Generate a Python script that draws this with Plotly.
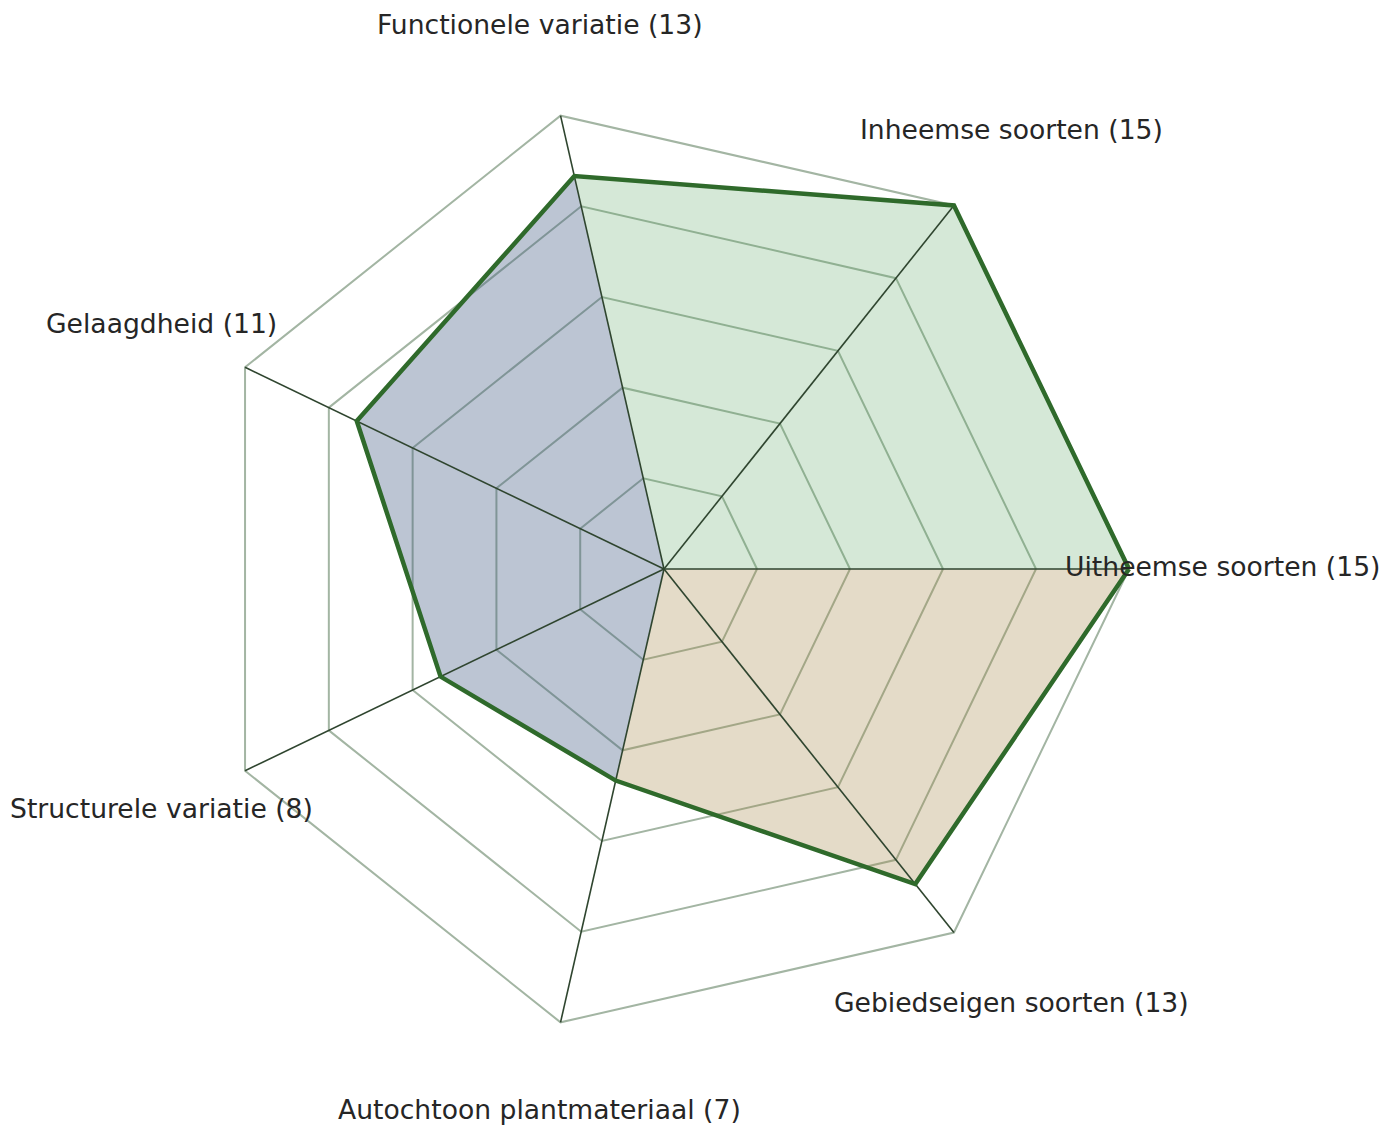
import math
import plotly.graph_objects as go

# Scores per criterium (max 15)
categories = [
    "Uitheemse soorten",
    "Inheemse soorten",
    "Functionele variatie",
    "Gelaagdheid",
    "Structurele variatie",
    "Autochtoon plantmateriaal",
    "Gebiedseigen soorten",
]
values = [15, 15, 13, 11, 8, 7, 13]
max_score = 15
ring_ticks = [3, 6, 9, 12, 15]

# which axes belong to each coloured group (start, end index; wraps around)
groups = [(0, 2), (2, 5), (5, 7)]
group_colors = [
    "rgba(87,163,95,0.25)",
    "rgba(64,89,129,0.35)",
    "rgba(165,135,72,0.30)",
]

labels = [f"{c} ({v})" for c, v in zip(categories, values)]
n = len(categories)

fig = go.Figure()

# coloured sectors from the centre
for (a, b), col in zip(groups, group_colors):
    idx = [i % n for i in range(a, b + 1)]
    fig.add_trace(go.Scatterpolar(
        r=[0] + [values[i] for i in idx] + [0],
        theta=[categories[idx[0]]] + [categories[i] for i in idx] + [categories[idx[-1]]],
        mode="lines",
        fill="toself",
        fillcolor=col,
        line=dict(width=0),
        hoverinfo="skip",
    ))

# spokes from the centre to the outer ring (drawn on top of the fills)
spoke_r, spoke_t = [], []
for c in categories:
    spoke_r += [0, max_score, None]
    spoke_t += [c, c, c]
fig.add_trace(go.Scatterpolar(
    r=spoke_r,
    theta=spoke_t,
    mode="lines",
    line=dict(color="#2f452f", width=1.6),
    connectgaps=False,
    hoverinfo="skip",
))

# outline of the scores
fig.add_trace(go.Scatterpolar(
    r=values + values[:1],
    theta=categories + categories[:1],
    mode="lines",
    line=dict(color="#2f6a2b", width=4.5),
))

# geometry in pixels; the page adds an 8px body margin, so the figure is
# made 8px smaller to stay inside the window
W, H = 1391, 1118
cx, cy, R = 656, 561, 465
r_pad = 15.25
Rp = R * r_pad / max_score
half_box = 16 / H

# axis labels, centred at 1.2x the outer radius (kept inside the figure)
annotations = []
for i, lab in enumerate(labels):
    ang = 2 * math.pi * i / n
    y = (H - cy + 1.2 * R * math.sin(ang)) / H + 3 / H
    yanchor = "middle"
    if y + half_box > 1:
        y, yanchor = 1, "top"
    elif y - half_box < 0:
        y, yanchor = 0, "bottom"
    annotations.append(dict(
        x=(cx + 1.2 * R * math.cos(ang)) / W,
        y=y,
        xref="paper", yref="paper",
        text=lab,
        showarrow=False,
        xanchor="center", yanchor=yanchor,
        borderpad=0,
        font=dict(family="DejaVu Sans", size=26.6, color="#262626"),
    ))

fig.update_layout(
    width=W,
    height=H,
    margin=dict(l=0, r=0, t=0, b=0),
    paper_bgcolor="white",
    showlegend=False,
    annotations=annotations,
    polar=dict(
        domain=dict(x=[(cx - Rp) / W, (cx + Rp) / W], y=[(H - cy - Rp) / H, (H - cy + Rp) / H]),
        bgcolor="white",
        gridshape="linear",
        radialaxis=dict(
            range=[0, r_pad],
            tickvals=ring_ticks,
            showticklabels=False,
            ticks="",
            showline=False,
            gridcolor="#a3b5a3",
            gridwidth=1.5,
        ),
        angularaxis=dict(
            direction="counterclockwise",
            rotation=0,
            showticklabels=False,
            ticks="",
            showgrid=False,
            showline=False,
        ),
    ),
)

fig.write_html("out.html")
